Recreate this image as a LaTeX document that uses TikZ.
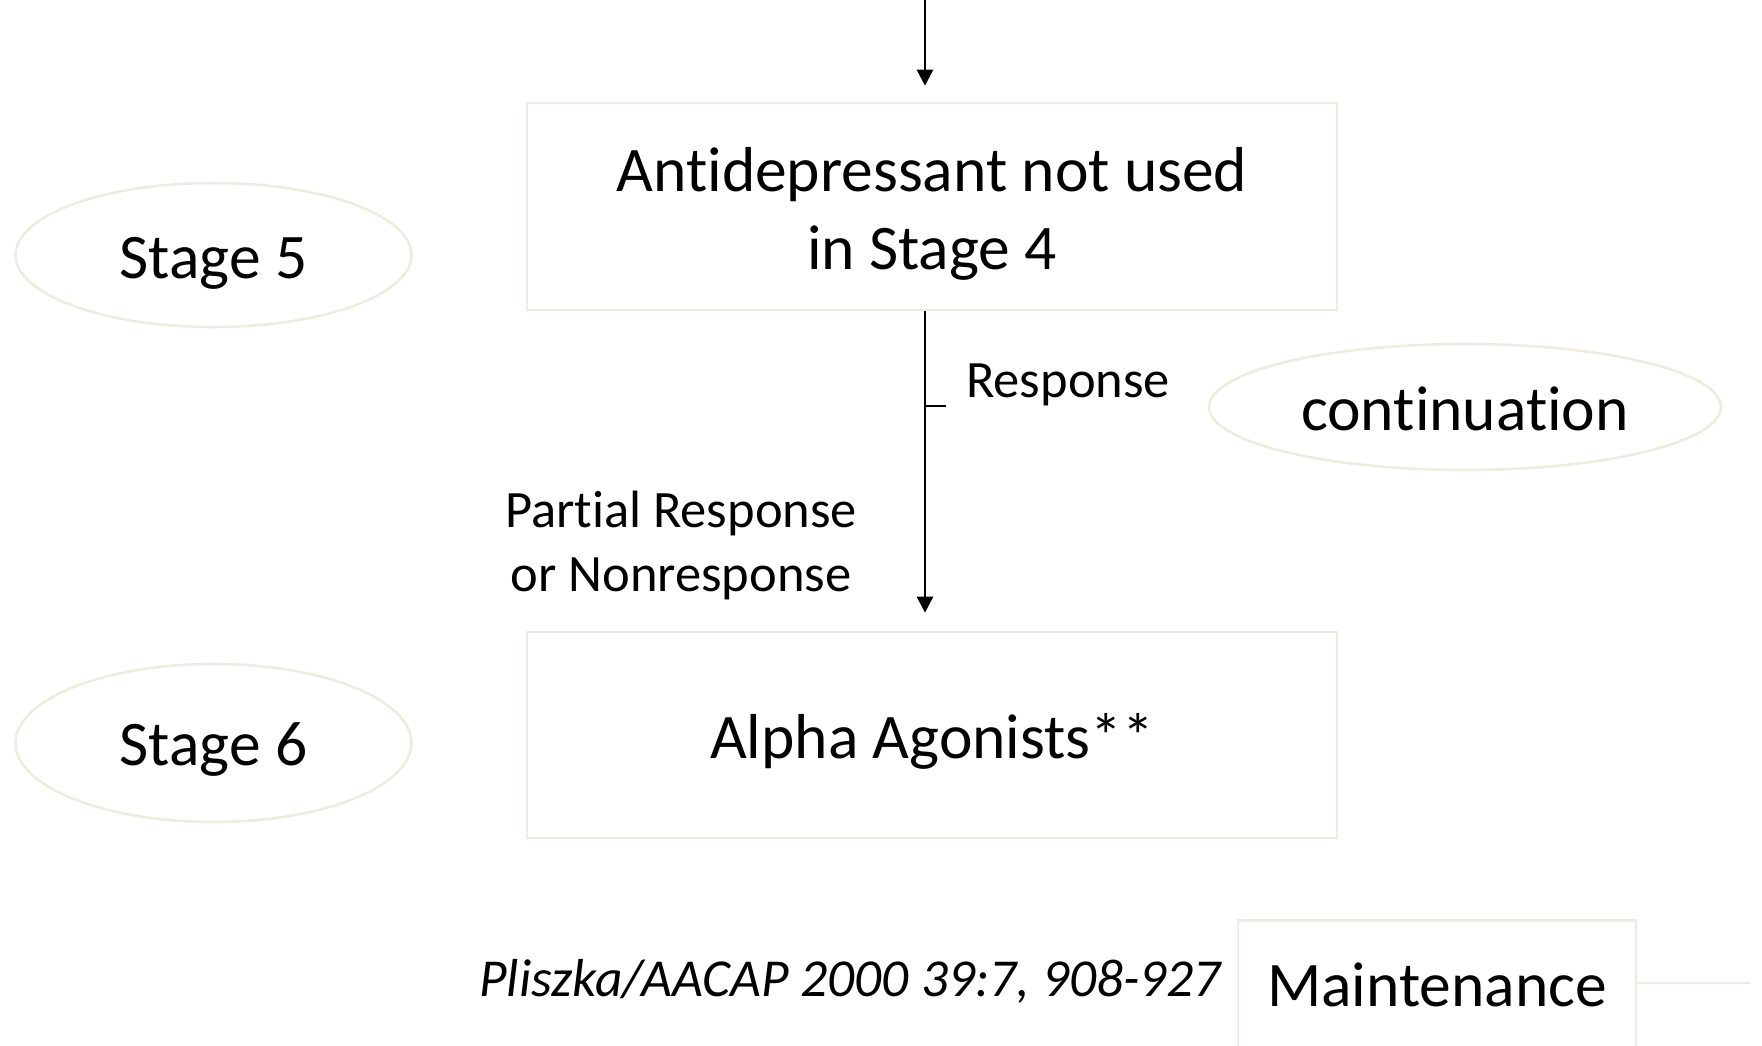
\documentclass[tikz,border=0pt]{standalone}
\usepackage{fontspec}
\setmainfont{Carlito}[Ligatures={NoCommon,NoContextual}]
\usetikzlibrary{arrows.meta,shapes.geometric}
\definecolor{frame}{HTML}{EEECE1}
\newcommand\nolig{\kern0pt}
\begin{document}
\begin{tikzpicture}[x=1pt,y=-1pt,
  box/.style={draw=frame,line width=2.6pt,rectangle,inner sep=0pt},
  oval/.style={draw=frame,line width=2.6pt,ellipse,inner sep=0pt},
  big/.style={font=\fontsize{63.5}{77.5}\selectfont,align=center},
  small/.style={font=\fontsize{52.5}{64}\selectfont,align=center},
  conn/.style={line width=2.6pt,black},
  tip/.style={-{Triangle[length=16pt,width=16pt]}}
]
\useasboundingbox (0,0) rectangle (1762,1045);
\clip (0,0) rectangle (1762,1045);
% boxes
\node[box,minimum width=810,minimum height=207] (box1) at (932,206.5) {};
\node[big] (box1text) at (932,214) {Ant\nolig idepressant not used\\in Stage 4};
\node[box,minimum width=810,minimum height=206] (box2) at (932,735) {};
\node[big] (box2text) at (932,741.5) {Alpha Agonists**};
% ellipses
\node[oval,minimum width=396,minimum height=144] (stage5) at (213.5,255) {};
\node[big] (stage5text) at (213.5,263) {Stage 5};
\node[oval,minimum width=396,minimum height=158] (stage6) at (213.5,743) {};
\node[big] (stage6text) at (213.5,750) {Stage 6};
\node[oval,minimum width=512,minimum height=126] (cont) at (1465,407) {};
\node[big] (conttext) at (1465,408.5) {cont\nolig inuat\nolig ion};
% labels
\node[small,anchor=west,inner sep=0pt] (resp) at (966,384.5) {Response};
\node[small] (partial) at (681,545.5) {Part\nolig ial Response\\or Nonresponse};
\node[font=\fontsize{53.4}{64}\selectfont\itshape] (cite) at (850,981) {Pliszka/AACAP 2000 39:7, 908-927};
% maintenance
\node[box,minimum width=398,minimum height=200,anchor=north] (maint) at (1437,919) {};
\node[big] (mainttext) at (1437,985) {Maintenance};
\coordinate (mend) at (1750,983);
\draw[draw=frame,line width=2.6pt] (maint.east |- mend) -- (mend);
% connectors
\coordinate (top) at (925,0);
\coordinate (tick) at (946,406);
\draw[conn,tip] (top) -- ([yshift=16]box1.north -| top);
\draw[conn,tip] (box1.south -| top) -- ([yshift=18]box2.north -| top);
\draw[conn] (tick -| top) -- (tick);
\end{tikzpicture}
\end{document}
